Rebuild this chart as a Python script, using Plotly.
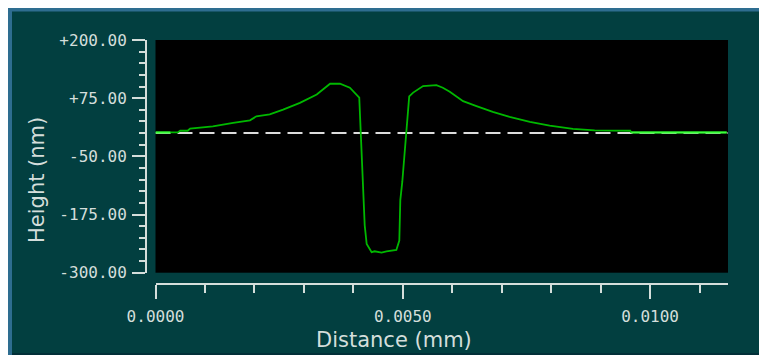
import plotly.graph_objects as go

# ---- data ----
dist_mm = [0.0, 0.00030, 0.00045, 0.00050, 0.00065, 0.00070, 0.00090, 0.00116, 0.00157,
           0.00191, 0.00204, 0.00231, 0.00258, 0.00292, 0.00326, 0.00353, 0.00373, 0.00393,
           0.00412, 0.00415, 0.00417, 0.00420, 0.00423, 0.00427, 0.00437, 0.00443, 0.00457,
           0.00467, 0.00487, 0.00493, 0.00495, 0.00499, 0.00502, 0.00504, 0.00508, 0.00513,
           0.00521, 0.00541, 0.00568, 0.00581, 0.00595, 0.00622, 0.00649, 0.00682, 0.00716,
           0.00757, 0.00797, 0.00844, 0.00888, 0.00960, 0.00962, 0.01000, 0.01155]
height_nm = [1.5, 1.5, 1.5, 5, 5, 9.5, 11, 14.5, 22,
             27.5, 36, 40, 50.5, 65, 83, 106, 106, 97.5,
             76, 0, -36, -119, -198, -238, -256, -254, -257,
             -254, -251, -231, -144, -105, -65, -36, 0, 79,
             87, 101, 103, 97.5, 89, 68.5, 58, 45.5, 35,
             24, 16, 9, 5.8, 5, 1.5, 1.5, 1.5]

ref_region = [0.0, 0.00030]        # highlighted (bright) segments
meas_region = [0.00962, 0.01155]
baseline_nm = 0.0

x_range = [0.0, 0.011576]
y_range = [-300, 200]

y_tickvals = [200, 75, -50, -175, -300]
y_ticktext = ["+200.00", "+75.00", "-50.00", "-175.00", "-300.00"]
y_minor = list(range(-300, 201, 25))

x_tickvals = [0.0, 0.005, 0.010]
x_ticktext = ["0.0000", "0.0050", "0.0100"]
x_minor = [i * 0.001 for i in range(0, 12)]

# ---- styles ----
TEAL = "#023f40"
BLUE = "#2e6d90"
TXT = "#d4dedb"
GREEN = "#00b800"
BRIGHT = "#3cff3c"

W, H = 767, 355
L, R, T, B = 138, 47, 32, 79
PW, PH = W - L - R, H - T - B


def px(x):
    return (x - L) / PW


def py(y):
    return (H - B - y) / PH


fig = go.Figure()

fig.add_trace(go.Scatter(x=x_range, y=[baseline_nm, baseline_nm], mode="lines",
                         line=dict(color="#dcdcdc", width=2, dash="15px,7px"),
                         hoverinfo="skip", showlegend=False))

fig.add_trace(go.Scatter(x=dist_mm, y=height_nm, mode="lines",
                         line=dict(color=GREEN, width=1.8), showlegend=False))

for reg in (ref_region, meas_region):
    xs = [x for x in dist_mm if reg[0] <= x <= reg[1]]
    ys = [h for x, h in zip(dist_mm, height_nm) if reg[0] <= x <= reg[1]]
    fig.add_trace(go.Scatter(x=xs, y=ys, mode="lines",
                             line=dict(color=BRIGHT, width=2), showlegend=False))

fig.update_layout(
    width=W, height=H,
    margin=dict(l=L, r=R, t=T, b=B, pad=0),
    paper_bgcolor=TEAL,
    plot_bgcolor="#000000",
    showlegend=False,
    xaxis=dict(
        domain=[9.5 / PW, 1], anchor="free", position=0,
        range=x_range, showgrid=False, zeroline=False,
        showline=True, linecolor=TXT, linewidth=2,
        ticks="outside", ticklen=14, tickwidth=2, tickcolor=TXT,
        tickmode="array", tickvals=x_tickvals, ticktext=x_ticktext,
        tickfont=dict(family="DejaVu Sans Mono", size=16, color=TXT),
        ticklabelstandoff=4,
        minor=dict(ticks="outside", ticklen=8, tickwidth=2, tickcolor=TXT,
                   tickmode="array", tickvals=x_minor, showgrid=False),
    ),
    yaxis=dict(
        domain=[11.3 / PH, 1], anchor="free", position=0,
        range=y_range, showgrid=False, zeroline=False,
        showline=True, linecolor=TXT, linewidth=2,
        ticks="outside", ticklen=13, tickwidth=2, tickcolor=TXT,
        tickmode="array", tickvals=y_tickvals, ticktext=y_ticktext,
        tickfont=dict(family="DejaVu Sans Mono", size=16, color=TXT),
        ticklabelstandoff=2,
        minor=dict(ticks="outside", ticklen=6, tickwidth=2, tickcolor=TXT,
                   tickmode="array", tickvals=y_minor, showgrid=False),
    ),
    annotations=[
        dict(text="Distance (mm)", xref="paper", yref="paper",
             x=px(386), y=py(332), xanchor="center", yanchor="middle",
             showarrow=False, font=dict(family="DejaVu Sans", size=21, color=TXT)),
        dict(text="Height (nm)", xref="paper", yref="paper", textangle=-90,
             x=px(29), y=py(172), xanchor="center", yanchor="middle",
             showarrow=False, font=dict(family="DejaVu Sans", size=21, color=TXT)),
    ],
    shapes=[
        dict(type="rect", xref="paper", yref="paper", x0=px(-5), x1=px(4), y0=py(-5), y1=py(360),
             fillcolor=BLUE, line=dict(width=0), layer="below"),
        dict(type="rect", xref="paper", yref="paper", x0=px(-5), x1=px(775), y0=py(-5), y1=py(3.5),
             fillcolor=BLUE, line=dict(width=0), layer="below"),
        dict(type="rect", xref="paper", yref="paper", x0=px(4), x1=px(775), y0=py(345), y1=py(360),
             fillcolor="#022f38", line=dict(width=0), layer="below"),
    ],
)

fig.write_html("out.html")
